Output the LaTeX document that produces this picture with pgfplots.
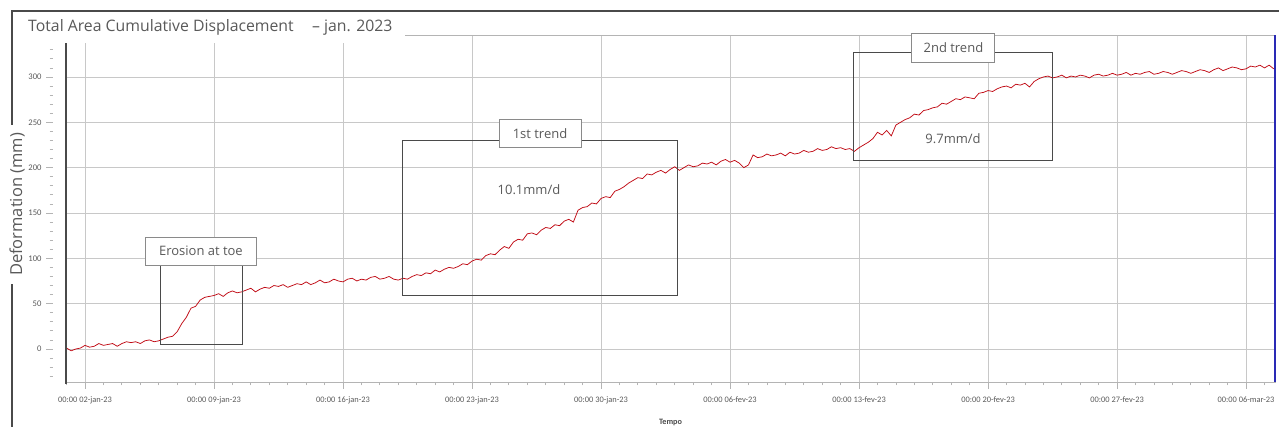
\documentclass[border=0pt]{standalone}
\usepackage{fontspec}
\setmainfont{Open Sans}
\newfontfamily\carl{Carlito}
\usepackage{pgfplots}
\pgfplotsset{compat=1.18}
\definecolor{txtgray}{HTML}{595959}
\definecolor{gridgray}{HTML}{C8C8C8}
\definecolor{axgray}{HTML}{B4B4B4}
\definecolor{framegray}{HTML}{4A4A4A}
\definecolor{boxgray}{HTML}{8A8A8A}
\definecolor{linered}{HTML}{C00A14}
\definecolor{blueline}{HTML}{2A2AB5}
\begin{document}
\begin{tikzpicture}[x=1pt,y=1pt]
\useasboundingbox (0,0) rectangle (1279,427);
% outer frame
\draw[framegray, line width=1.3pt] (12,0) -- (12,416) -- (1279,416);
\begin{axis}[
  at={(66pt,45pt)}, anchor=south west,
  scale only axis, width=1209pt, height=347pt,
  xmin=-1.031, xmax=64.57, ymin=-36.4, ymax=346.3,
  xtick={0,7,14,21,28,35,42,49,56,63},
  xticklabels={00:00 02-jan-23,00:00 09-jan-23,00:00 16-jan-23,00:00 23-jan-23,00:00 30-jan-23,00:00 06-fev-23,00:00 13-fev-23,00:00 20-fev-23,00:00 27-fev-23,00:00 06-mar-23},
  minor xtick={-1,0,...,64},
  ytick={0,50,...,300},
  minor ytick={-30,-20,...,340},
  xtick pos=bottom, ytick pos=left,
  grid=major,
  major grid style={draw=gridgray, line width=0.9pt},
  axis line style={draw=axgray, line width=0.9pt},
  tick align=outside,
  major tick length=7pt, minor tick length=3.5pt,
  every tick/.style={draw=axgray, line width=0.8pt},
  every major y tick/.append style={xshift=-13pt},
  every minor y tick/.append style={xshift=-13pt},
  /pgf/number format/assume math mode=true,
  xticklabel style={font=\carl\fontsize{8.4}{9}\selectfont, text=txtgray, yshift=-4pt},
  yticklabel style={font=\carl\fontsize{8.6}{9}\selectfont, text=txtgray, xshift=-14pt},
  xlabel={Tempo},
  xlabel style={at={(axis description cs:0.5,0)}, anchor=center, yshift=-40pt, font=\carl\bfseries\fontsize{8.2}{9}\selectfont, text=framegray},
  ylabel={Deformation (mm)},
  ylabel style={at={(axis description cs:-0.0405,0.5115)}, anchor=center, rotate=0, fill=white, inner xsep=8pt, inner ysep=1pt, font=\fontsize{16.5}{18}\selectfont, text=txtgray},
  clip=false,
]
\addplot[linered, line width=0.75pt] coordinates {
(-1.00,1) (-0.75,-2) (-0.50,0) (-0.25,1) (0.00,4) (0.25,2) (0.50,3) (0.75,6) (1.00,4) (1.25,5)
(1.50,6) (1.75,3) (2.00,6) (2.25,8) (2.50,7) (2.75,8) (3.00,6) (3.25,9) (3.50,10) (3.75,8)
(4.00,9) (4.25,11) (4.50,13) (4.75,14) (5.00,19) (5.25,28) (5.50,35) (5.75,45) (6.00,47) (6.25,54)
(6.50,57) (6.75,58) (7.00,59) (7.25,61) (7.50,58) (7.75,62) (8.00,64) (8.25,62) (8.50,63) (8.75,65)
(9.00,67) (9.25,63) (9.50,66) (9.75,68) (10.00,67) (10.25,70) (10.50,69) (10.75,71) (11.00,68) (11.25,70)
(11.50,72) (11.75,71) (12.00,74) (12.25,71) (12.50,73) (12.75,76) (13.00,73) (13.25,74) (13.50,77) (13.75,75)
(14.00,74) (14.25,77) (14.50,78) (14.75,75) (15.00,77) (15.25,76) (15.50,79) (15.75,80) (16.00,77) (16.25,78)
(16.50,80) (16.75,77) (17.00,76) (17.25,78) (17.50,77) (17.75,80) (18.00,82) (18.25,81) (18.50,84) (18.75,83)
(19.00,87) (19.25,85) (19.50,88) (19.75,90) (20.00,89) (20.25,91) (20.50,94) (20.75,93) (21.00,97) (21.25,99)
(21.50,98) (21.75,103) (22.00,105) (22.25,104) (22.50,109) (22.75,113) (23.00,111) (23.25,118) (23.50,121) (23.75,120)
(24.00,127) (24.25,128) (24.50,126) (24.75,131) (25.00,134) (25.25,133) (25.50,137) (25.75,136) (26.00,141) (26.25,143)
(26.50,140) (26.75,153) (27.00,156) (27.25,157) (27.50,161) (27.75,160) (28.00,166) (28.25,168) (28.50,167) (28.75,174)
(29.00,176) (29.25,179) (29.50,183) (29.75,186) (30.00,189) (30.25,188) (30.50,193) (30.75,192) (31.00,195) (31.25,197)
(31.50,194) (31.75,198) (32.00,201) (32.25,197) (32.50,200) (32.75,203) (33.00,201) (33.25,202) (33.50,205) (33.75,204)
(34.00,206) (34.25,203) (34.50,207) (34.75,209) (35.00,206) (35.25,208) (35.50,205) (35.75,200) (36.00,203) (36.25,214)
(36.50,211) (36.75,212) (37.00,215) (37.25,213) (37.50,214) (37.75,216) (38.00,213) (38.25,217) (38.50,215) (38.75,216)
(39.00,219) (39.25,217) (39.50,218) (39.75,221) (40.00,219) (40.25,220) (40.50,223) (40.75,221) (41.00,222) (41.25,220)
(41.50,221) (41.75,218) (42.00,222) (42.25,225) (42.50,228) (42.75,232) (43.00,239) (43.25,236) (43.50,241) (43.75,235)
(44.00,247) (44.25,250) (44.50,253) (44.75,255) (45.00,259) (45.25,258) (45.50,263) (45.75,264) (46.00,266) (46.25,267)
(46.50,271) (46.75,270) (47.00,273) (47.25,276) (47.50,275) (47.75,278) (48.00,277) (48.25,276) (48.50,282) (48.75,283)
(49.00,285) (49.25,284) (49.50,287) (49.75,289) (50.00,290) (50.25,288) (50.50,292) (50.75,291) (51.00,293) (51.25,289)
(51.50,295) (51.75,298) (52.00,300) (52.25,301) (52.50,299) (52.75,300) (53.00,302) (53.25,299) (53.50,301) (53.75,300)
(54.00,302) (54.25,301) (54.50,299) (54.75,302) (55.00,303) (55.25,301) (55.50,302) (55.75,304) (56.00,302) (56.25,303)
(56.50,305) (56.75,302) (57.00,304) (57.25,303) (57.50,305) (57.75,306) (58.00,303) (58.25,304) (58.50,306) (58.75,305)
(59.00,303) (59.25,305) (59.50,307) (59.75,306) (60.00,304) (60.25,306) (60.50,308) (60.75,307) (61.00,305) (61.25,308)
(61.50,310) (61.75,307) (62.00,309) (62.25,311) (62.50,310) (62.75,308) (63.00,309) (63.25,312) (63.50,311) (63.75,313)
(64.00,310) (64.25,313) (64.50,309)
};
% plot border lines
\draw[framegray, line width=1.8pt] (rel axis cs:0,-0.005) -- (rel axis cs:0,1);
\draw[blueline, line width=2.5pt] (rel axis cs:1,0) -- (rel axis cs:1,1);
% annotations
\draw[framegray, line width=0.9pt] (axis cs:4.07,5.5) rectangle (axis cs:8.52,103.7);
\node[draw=boxgray, line width=0.9pt, fill=white, minimum width=111pt, minimum height=28pt, inner sep=0pt, font=\fontsize{13}{15}\selectfont, text=txtgray] at (axis cs:6.29,108.1) {Erosion at toe};
\draw[framegray, line width=0.9pt] (axis cs:17.25,58.5) rectangle (axis cs:32.12,230.5);
\node[draw=boxgray, line width=0.9pt, fill=white, minimum width=82pt, minimum height=28pt, inner sep=0pt, font=\fontsize{13}{15}\selectfont, text=txtgray] at (axis cs:24.69,237.7) {1st trend};
\node[font=\fontsize{13}{15}\selectfont, text=txtgray] at (axis cs:24.09,175.4) {10.1mm/d};
\draw[framegray, line width=0.9pt] (axis cs:41.67,208.4) rectangle (axis cs:52.52,326.5);
\node[draw=boxgray, line width=0.9pt, fill=white, minimum width=83pt, minimum height=29pt, inner sep=0pt, font=\fontsize{13}{15}\selectfont, text=txtgray] at (axis cs:47.12,332.5) {2nd trend};
\node[font=\fontsize{13}{15}\selectfont, text=txtgray] at (axis cs:47.10,231.6) {9.7mm/d};
\end{axis}
% title
\fill[white] (13,384) rectangle (405,415.3);
\node[anchor=west, font=\fontsize{15.8}{18}\selectfont, text=txtgray, inner sep=0pt] at (28,400) {Total Area Cumulative Displacement\hspace{0.9em} – jan. 2023};
\end{tikzpicture}
\end{document}
